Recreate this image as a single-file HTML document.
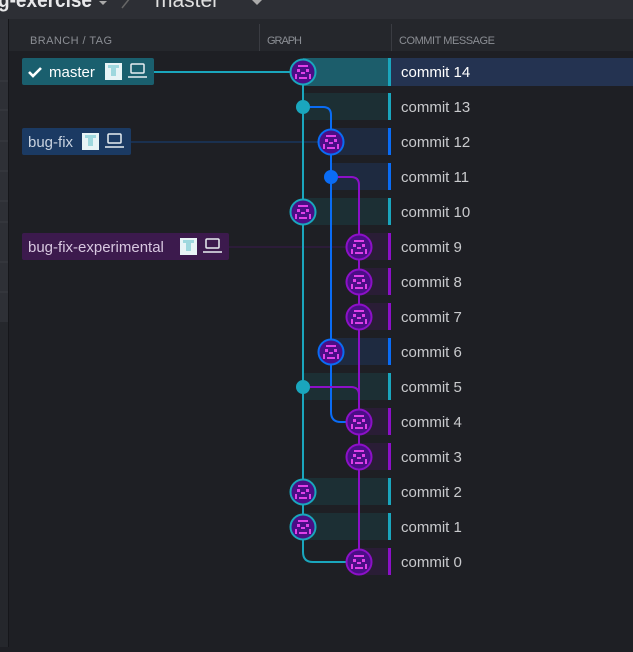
<!DOCTYPE html>
<html><head><style>
body{margin:0;width:633px;height:647px;overflow:hidden;background:#1e1f24;font-family:"Liberation Sans",sans-serif}
</style></head><body>
<svg width="633" height="647" xmlns="http://www.w3.org/2000/svg" font-family="Liberation Sans, sans-serif">
<rect width="633" height="647" fill="#1e1f24"/>
<rect width="633" height="19" fill="#2d2f35"/>
<text x="-2" y="7" font-size="21" font-weight="bold" fill="#e8e8ea" textLength="94" lengthAdjust="spacingAndGlyphs">g-exercise</text>
<path d="M99 1 l4 4 l4 -4z" fill="#aaa"/>
<path d="M122 8 l8 -10" stroke="#666" stroke-width="1.5"/>
<text x="155" y="7" font-size="21" fill="#e0e0e0">master</text>
<path d="M252 0 l5 5 l5 -5z" fill="#aaa"/>
<rect x="0" y="19" width="8" height="628" fill="#25272c"/>
<rect x="0" y="19" width="8" height="303" fill="#2e3036"/>
<g stroke="#3a3c42"><line x1="0" y1="81" x2="8" y2="81"/><line x1="0" y1="110" x2="8" y2="110"/><line x1="0" y1="141" x2="8" y2="141"/><line x1="0" y1="171" x2="8" y2="171"/><line x1="0" y1="201" x2="8" y2="201"/><line x1="0" y1="222" x2="8" y2="222"/><line x1="0" y1="262" x2="8" y2="262"/><line x1="0" y1="292" x2="8" y2="292"/></g>
<line x1="8.5" y1="19" x2="8.5" y2="647" stroke="#15161a"/>
<rect x="9" y="19" width="624" height="32" fill="#25272c"/>
<line x1="259.5" y1="24" x2="259.5" y2="51" stroke="#3a3c42"/>
<line x1="391.5" y1="24" x2="391.5" y2="51" stroke="#3a3c42"/>
<g font-size="11" fill="#8b8e94"><text x="30" y="44" textLength="82">BRANCH / TAG</text><text x="267" y="44" textLength="35">GRAPH</text><text x="399" y="44" textLength="96">COMMIT MESSAGE</text></g>
<rect x="303" y="58" width="85" height="28" fill="#1c5d6b"/>
<rect x="391" y="58" width="242" height="28" fill="#243351"/>
<rect x="303" y="93" width="85" height="27" fill="#1c2f34"/>
<rect x="331" y="128" width="57" height="27" fill="#1e2a40"/>
<rect x="331" y="163" width="57" height="27" fill="#1e2a40"/>
<rect x="303" y="198" width="85" height="27" fill="#1c2f34"/>
<rect x="359" y="233" width="29" height="27" fill="#2a1d36"/>
<rect x="359" y="268" width="29" height="27" fill="#2a1d36"/>
<rect x="359" y="303" width="29" height="27" fill="#2a1d36"/>
<rect x="331" y="338" width="57" height="27" fill="#1e2a40"/>
<rect x="303" y="373" width="85" height="27" fill="#1c2f34"/>
<rect x="359" y="408" width="29" height="27" fill="#2a1d36"/>
<rect x="359" y="443" width="29" height="27" fill="#2a1d36"/>
<rect x="303" y="478" width="85" height="27" fill="#1c2f34"/>
<rect x="303" y="513" width="85" height="27" fill="#1c2f34"/>
<rect x="359" y="548" width="29" height="27" fill="#2a1d36"/>
<g>
<rect x="388" y="58" width="3" height="28" fill="#1aa6bd"/>
<rect x="388" y="93" width="3" height="27" fill="#1aa6bd"/>
<rect x="388" y="128" width="3" height="27" fill="#0a6cf5"/>
<rect x="388" y="163" width="3" height="27" fill="#0a6cf5"/>
<rect x="388" y="198" width="3" height="27" fill="#1aa6bd"/>
<rect x="388" y="233" width="3" height="27" fill="#8c10c8"/>
<rect x="388" y="268" width="3" height="27" fill="#8c10c8"/>
<rect x="388" y="303" width="3" height="27" fill="#8c10c8"/>
<rect x="388" y="338" width="3" height="27" fill="#0a6cf5"/>
<rect x="388" y="373" width="3" height="27" fill="#1aa6bd"/>
<rect x="388" y="408" width="3" height="27" fill="#8c10c8"/>
<rect x="388" y="443" width="3" height="27" fill="#8c10c8"/>
<rect x="388" y="478" width="3" height="27" fill="#1aa6bd"/>
<rect x="388" y="513" width="3" height="27" fill="#1aa6bd"/>
<rect x="388" y="548" width="3" height="27" fill="#8c10c8"/>
</g>
<g font-size="15" fill="#c9cacd">
<text x="401" y="77" fill="#ffffff">commit 14</text>
<text x="401" y="112">commit 13</text>
<text x="401" y="147">commit 12</text>
<text x="401" y="182">commit 11</text>
<text x="401" y="217">commit 10</text>
<text x="401" y="252">commit 9</text>
<text x="401" y="287">commit 8</text>
<text x="401" y="322">commit 7</text>
<text x="401" y="357">commit 6</text>
<text x="401" y="392">commit 5</text>
<text x="401" y="427">commit 4</text>
<text x="401" y="462">commit 3</text>
<text x="401" y="497">commit 2</text>
<text x="401" y="532">commit 1</text>
<text x="401" y="567">commit 0</text>
</g>
<line x1="154" y1="72" x2="292" y2="72" stroke="#1aa6bd" stroke-width="2"/>
<line x1="131" y1="142" x2="320" y2="142" stroke="#17407a" stroke-width="1"/>
<line x1="229" y1="247" x2="348" y2="247" stroke="#3a1a4e" stroke-width="1"/>
<rect x="22" y="58" width="132" height="27" rx="2" fill="#1a5f6e"/>
<path d="M29 72 l4 4 l8 -8" stroke="#fff" stroke-width="2.6" fill="none"/>
<text x="49" y="77" font-size="15" fill="#ffffff">master</text>
<rect x="22" y="128" width="109" height="27" rx="2" fill="#1b3a63"/>
<text x="28" y="147" font-size="15" fill="#c9d3e0">bug-fix</text>
<rect x="22" y="233" width="207" height="27" rx="2" fill="#3c1a4d"/>
<text x="28" y="252" font-size="15" fill="#d8c8e0">bug-fix-experimental</text>
<g id="ic">
<rect x="105" y="63" width="17" height="17" fill="#e8f4f6"/>
<rect x="108" y="65" width="11" height="3" fill="#9fd8de"/><rect x="111" y="68" width="5" height="8" fill="#9fd8de"/>
<rect x="131" y="64" width="13" height="9" rx="1" fill="none" stroke="#e8eef2" stroke-width="1.5"/>
<path d="M128 77 h19" stroke="#e8eef2" stroke-width="1.5"/>
</g>
<use href="#ic" x="-23" y="70"/>
<use href="#ic" x="75" y="175"/>
<g fill="none" stroke-width="2">
<path d="M303 72 V552 Q303 562 313 562 H359" stroke="#1aa6bd"/>
<path d="M303 107 H323 Q331 107 331 115 V412 Q331 422 341 422 H359" stroke="#0a6cf5"/>
<path d="M331 177 H351 Q359 177 359 185 V562" stroke="#8c10c8"/>
<path d="M303 387 H351 Q359 387 359 395" stroke="#8c10c8"/>
</g>
<circle cx="303" cy="107" r="7" fill="#1aa6bd"/>
<circle cx="331" cy="177" r="7" fill="#0a6cf5"/>
<circle cx="303" cy="387" r="7" fill="#1aa6bd"/>
<defs>
<g id="av">
<circle r="12" fill="#4a0e86"/>
<rect x="-5" y="-7" width="10" height="2" fill="#e040e8"/>
<rect x="-6" y="-3" width="3" height="3" fill="#e040e8"/><rect x="3" y="-3" width="3" height="3" fill="#e040e8"/>
<rect x="-2" y="0" width="4" height="2" fill="#e040e8"/>
<rect x="-8" y="2" width="2" height="5" fill="#e040e8"/><rect x="6" y="2" width="2" height="5" fill="#e040e8"/>
<rect x="-4" y="5" width="8" height="2" fill="#e040e8"/>
</g>
</defs>
<g stroke-width="2">
<g transform="translate(303,72)"><use href="#av"/><circle r="12.5" fill="none" stroke="#1aa6bd"/></g>
<g transform="translate(331,142)"><use href="#av"/><circle r="12.5" fill="none" stroke="#0a6cf5"/></g>
<g transform="translate(303,212)"><use href="#av"/><circle r="12.5" fill="none" stroke="#1aa6bd"/></g>
<g transform="translate(359,247)"><use href="#av"/><circle r="12.5" fill="none" stroke="#8c10c8"/></g>
<g transform="translate(359,282)"><use href="#av"/><circle r="12.5" fill="none" stroke="#8c10c8"/></g>
<g transform="translate(359,317)"><use href="#av"/><circle r="12.5" fill="none" stroke="#8c10c8"/></g>
<g transform="translate(331,352)"><use href="#av"/><circle r="12.5" fill="none" stroke="#0a6cf5"/></g>
<g transform="translate(359,422)"><use href="#av"/><circle r="12.5" fill="none" stroke="#8c10c8"/></g>
<g transform="translate(359,457)"><use href="#av"/><circle r="12.5" fill="none" stroke="#8c10c8"/></g>
<g transform="translate(303,492)"><use href="#av"/><circle r="12.5" fill="none" stroke="#1aa6bd"/></g>
<g transform="translate(303,527)"><use href="#av"/><circle r="12.5" fill="none" stroke="#1aa6bd"/></g>
<g transform="translate(359,562)"><use href="#av"/><circle r="12.5" fill="none" stroke="#8c10c8"/></g>
</g>
</svg>
</body></html>
